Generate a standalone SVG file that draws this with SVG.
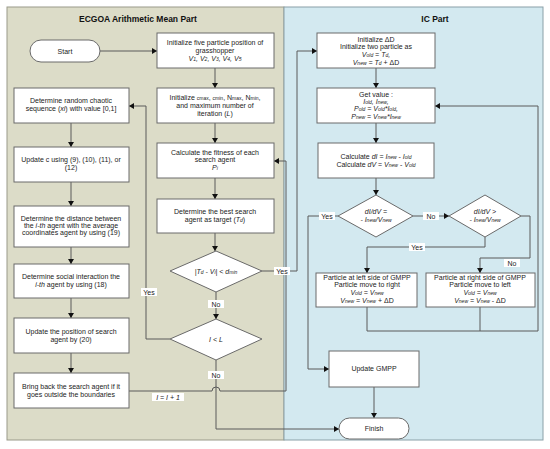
<svg xmlns="http://www.w3.org/2000/svg" width="550" height="449" viewBox="0 0 550 449">
<defs>
<marker id="ah" markerWidth="6" markerHeight="6" refX="5" refY="3" orient="auto" markerUnits="userSpaceOnUse">
<path d="M0,0 L5,3 L0,6 Z" fill="#111"/>
</marker>
<style>
text{font-family:"Liberation Sans",Arial,sans-serif;font-size:7px;fill:#222;text-anchor:middle}
.t{font-size:8.5px;font-weight:bold;fill:#111}
.i{font-style:italic}
.s{font-size:5px}
.b{fill:#fff;stroke:#6a6a6a;stroke-width:1}
.c{fill:none;stroke:#5a5a5a;stroke-width:1}
.a{marker-end:url(#ah)}
.lb{fill:#fff}
</style>
</defs>
<rect x="0" y="0" width="550" height="449" fill="#fff"/>
<rect x="7" y="7" width="277" height="433" fill="#dcdcc8" stroke="#9a9a8a" stroke-width="1"/>
<rect x="284" y="7" width="259" height="433" fill="#d3e9f0" stroke="#8aa0a8" stroke-width="1"/>
<text class="t" x="138" y="22">ECGOA Arithmetic Mean Part</text>
<text class="t" x="435" y="22">IC Part</text>

<g id="connectors">
<path class="c a" d="M100,51 H157"/>
<path class="c a" d="M215,68 V88"/>
<path class="c a" d="M215,123 V143"/>
<path class="c a" d="M215,178 V199"/>
<path class="c a" d="M215,233 V251"/>
<path class="c a" d="M216,292 V319"/>
<path class="c a" d="M216,360 V429 H339"/>
<path class="c a" d="M170,339 H146 V106 H129"/>
<path class="c a" d="M71,123 V147"/>
<path class="c a" d="M71,182 V206"/>
<path class="c a" d="M71,247 V264"/>
<path class="c a" d="M71,298 V318"/>
<path class="c a" d="M71,353 V373"/>
<path class="c a" d="M129,391 H212 A4,4 0 0 1 220,391 H286 V161 H274"/>
<path class="c a" d="M262,271 H297 V51 H317"/>
<path class="c a" d="M376,68 V88"/>
<path class="c a" d="M376,123 V143"/>
<path class="c a" d="M376,178 V195"/>
<path class="c a" d="M413,216 H449"/>
<path class="c a" d="M338,216 H308 V369 H329"/>
<path class="c a" d="M485,237 V247 H367 V273"/>
<path class="c a" d="M521,216 H530 V258 H480 V273"/>
<path class="c" d="M367,307 V331 M480,307 V331 M367,331 H538"/>
<path class="c a" d="M538,331 V106 H435"/>
<path class="c a" d="M374,387 V418"/>
<rect class="lb" x="208" y="300" width="16" height="8"/><text x="216" y="307">No</text>
<rect class="lb" x="208" y="371" width="16" height="8"/><text x="216" y="378">No</text>
<rect class="lb" x="141" y="288" width="16" height="8"/><text x="149" y="295">Yes</text>
<rect class="lb" x="274" y="267" width="16" height="8"/><text x="282" y="274">Yes</text>
<rect class="lb" x="152" y="393" width="32" height="8"/><text class="i" x="168" y="400">I = I + 1</text>
<rect class="lb" x="319" y="212" width="16" height="8"/><text x="327" y="219">Yes</text>
<rect class="lb" x="423" y="212" width="16" height="8"/><text x="431" y="219">No</text>
<rect class="lb" x="409" y="243" width="16" height="8"/><text x="417" y="250">Yes</text>
<rect class="lb" x="504" y="259" width="16" height="8"/><text x="512" y="266">No</text>
</g>

<g id="start"><rect class="b" x="30" y="40" width="70" height="22" rx="11"/><text x="65" y="54">Start</text></g>

<g id="init-five"><rect class="b" x="157" y="33" width="117" height="35"/>
<text x="215" y="45">Initialize five particle position of</text>
<text x="215" y="53">grasshopper</text>
<text class="i" x="215" y="61">V<tspan class="s">1</tspan>, V<tspan class="s">2</tspan>, V<tspan class="s">3</tspan>, V<tspan class="s">4</tspan>, V<tspan class="s">5</tspan></text></g>

<g id="init-c"><rect class="b" x="157" y="88" width="117" height="35"/>
<text x="215" y="100">Initialize <tspan class="s">cmax</tspan>, <tspan class="s">cmin</tspan>, N<tspan class="s">max</tspan>, N<tspan class="s">min</tspan>,</text>
<text x="215" y="108">and maximum number of</text>
<text x="215" y="116">iteration (<tspan class="i">L</tspan>)</text></g>

<g id="fitness"><rect class="b" x="157" y="143" width="117" height="35"/>
<text x="215" y="155">Calculate the fitness of each</text>
<text x="215" y="162">search agent</text>
<text class="i" x="215" y="170">P<tspan class="s">i</tspan></text></g>

<g id="best"><rect class="b" x="157" y="199" width="117" height="34"/>
<text x="215" y="214">Determine the best search</text>
<text x="215" y="222">agent as target (<tspan class="i">T<tspan class="s">d</tspan></tspan>)</text></g>

<g id="dmin"><polygon class="b" points="216,251 262,271 216,292 170,271"/>
<text x="216" y="274"><tspan class="i">|T<tspan class="s">d</tspan> - V<tspan class="s">i</tspan>| &lt; d<tspan class="s">min</tspan></tspan></text></g>

<g id="iless"><polygon class="b" points="216,319 262,339 216,360 170,339"/>
<text class="i" x="216" y="342">I &lt; L</text></g>

<g id="random"><rect class="b" x="14" y="88" width="115" height="35"/>
<text x="71" y="103">Determine random chaotic</text>
<text x="71" y="111">sequence (<tspan class="i">xi</tspan>) with value [0,1]</text></g>

<g id="update-c"><rect class="b" x="14" y="147" width="115" height="35"/>
<text x="71" y="162">Update c using (9), (10), (11), or</text>
<text x="71" y="170">(12)</text></g>

<g id="distance"><rect class="b" x="14" y="206" width="115" height="41"/>
<text x="71" y="221">Determine the distance between</text>
<text x="71" y="228">the <tspan class="i">i-th</tspan> agent with the average</text>
<text x="71" y="235">coordinates agent by using (19)</text></g>

<g id="social"><rect class="b" x="14" y="264" width="115" height="34"/>
<text x="71" y="279">Determine social interaction the</text>
<text x="71" y="287"><tspan class="i">i-th</tspan> agent by using (18)</text></g>

<g id="update-pos"><rect class="b" x="14" y="318" width="115" height="35"/>
<text x="71" y="334">Update the position of search</text>
<text x="71" y="342">agent by (20)</text></g>

<g id="bring-back"><rect class="b" x="14" y="373" width="115" height="35"/>
<text x="71" y="389">Bring back the search agent if it</text>
<text x="71" y="397">goes outside the boundaries</text></g>

<g id="init-d"><rect class="b" x="317" y="33" width="118" height="35"/>
<text x="376" y="42">Initialize ΔD</text>
<text x="376" y="49">Initialize two particle as</text>
<text class="i" x="376" y="57">V<tspan class="s">old</tspan> = T<tspan class="s">d</tspan>,</text>
<text x="376" y="65"><tspan class="i">V<tspan class="s">new</tspan> = T<tspan class="s">d</tspan></tspan> + ΔD</text></g>

<g id="get-value"><rect class="b" x="317" y="88" width="118" height="35"/>
<text x="376" y="97">Get value :</text>
<text class="i" x="376" y="104">I<tspan class="s">old</tspan>,  I<tspan class="s">new</tspan>,</text>
<text class="i" x="376" y="111">P<tspan class="s">old</tspan> = V<tspan class="s">old</tspan>*I<tspan class="s">old</tspan>,</text>
<text class="i" x="376" y="119">P<tspan class="s">new</tspan> = V<tspan class="s">new</tspan>*I<tspan class="s">new</tspan></text></g>

<g id="calc"><rect class="b" x="318" y="143" width="116" height="35"/>
<text x="376" y="159">Calculate <tspan class="i">dI</tspan> = <tspan class="i">I<tspan class="s">new</tspan></tspan> - <tspan class="i">I<tspan class="s">old</tspan></tspan></text>
<text x="376" y="167">Calculate <tspan class="i">dV</tspan> = <tspan class="i">V<tspan class="s">new</tspan></tspan> - <tspan class="i">V<tspan class="s">old</tspan></tspan></text></g>

<g id="d-eq"><polygon class="b" points="376,195 413,216 376,237 338,216"/>
<text class="i" x="376" y="214">dI/dV =</text>
<text class="i" x="376" y="222">- I<tspan class="s">new</tspan>/V<tspan class="s">new</tspan></text></g>

<g id="d-gt"><polygon class="b" points="485,195 521,216 485,237 449,216"/>
<text class="i" x="485" y="214">dI/dV &gt;</text>
<text class="i" x="485" y="222">- I<tspan class="s">new</tspan>/V<tspan class="s">new</tspan></text></g>

<g id="left-side"><rect class="b" x="316" y="273" width="101" height="34"/>
<text x="367" y="280">Particle at left side of GMPP</text>
<text x="367" y="287">Particle move to right</text>
<text class="i" x="367" y="295">V<tspan class="s">old</tspan> = V<tspan class="s">new</tspan></text>
<text x="367" y="303"><tspan class="i">V<tspan class="s">new</tspan> = V<tspan class="s">new</tspan></tspan> + ΔD</text></g>

<g id="right-side"><rect class="b" x="426" y="273" width="109" height="34"/>
<text x="480" y="280">Particle at right side of GMPP</text>
<text x="480" y="287">Particle move to left</text>
<text class="i" x="480" y="295">V<tspan class="s">old</tspan> = V<tspan class="s">new</tspan></text>
<text x="480" y="303"><tspan class="i">V<tspan class="s">new</tspan> = V<tspan class="s">new</tspan></tspan> - ΔD</text></g>

<g id="update-gmpp"><rect class="b" x="329" y="351" width="90" height="36"/>
<text x="374" y="371">Update GMPP</text></g>

<g id="finish"><rect class="b" x="339" y="418" width="70" height="21" rx="10.5"/>
<text x="374" y="431">Finish</text></g>
</svg>
